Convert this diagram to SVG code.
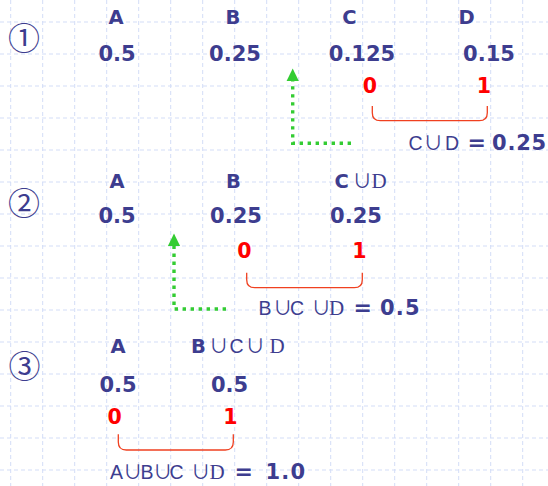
<svg xmlns="http://www.w3.org/2000/svg" width="548" height="486" viewBox="0 0 548 486">
  <defs>
    <style>
      .grid line { stroke: #d3ddf7; stroke-width: 1; stroke-dasharray: 4 3; }
      .lbl { font-family: "DejaVu Sans", sans-serif; font-weight: bold; font-size: 19.5px; fill: #3d3d8f; }
      .eq { font-family: "DejaVu Sans", sans-serif; font-weight: bold; font-size: 22px; fill: #3d3d8f; }
      .sum { font-family: "DejaVu Sans", sans-serif; font-weight: bold; font-size: 21px; fill: #3d3d8f; }
      .val { font-family: "DejaVu Sans", sans-serif; font-weight: bold; font-size: 21px; fill: #3d3d8f; text-anchor: middle; }
      .bit { font-family: "DejaVu Sans", sans-serif; font-weight: bold; font-size: 20.5px; fill: #ff0000; text-anchor: middle; }
      .thin { font-family: "Liberation Sans", sans-serif; font-weight: normal; font-size: 19.5px; fill: #3d3d8f; }
      .cup { font-family: "Noto Sans CJK JP", "DejaVu Sans", sans-serif; font-weight: normal; font-size: 19.5px; letter-spacing: -7px; fill: #3d3d8f; }
      .serifd { font-family: "Liberation Serif", serif; font-weight: normal; font-size: 21px; fill: #3d3d8f; }
      .step { font-family: "Noto Sans CJK JP", "DejaVu Sans", sans-serif; font-size: 32px; fill: #3d3d8f; text-anchor: middle; }
      .brace { fill: none; stroke: #f04020; stroke-width: 1.3; }
      .dots { fill: none; stroke: #33cc33; stroke-width: 3.4; stroke-dasharray: 3.4 4.6; }
      .head { fill: #33cc33; }
    </style>
  </defs>

  <rect width="548" height="486" fill="#ffffff"/>

  <!-- background grid, 32px pitch -->
  <g class="grid">
    <line x1="10.7" y1="0" x2="10.7" y2="486"/>
    <line x1="42.7" y1="0" x2="42.7" y2="486"/>
    <line x1="74.7" y1="0" x2="74.7" y2="486"/>
    <line x1="106.7" y1="0" x2="106.7" y2="486"/>
    <line x1="138.7" y1="0" x2="138.7" y2="486"/>
    <line x1="170.7" y1="0" x2="170.7" y2="486"/>
    <line x1="202.7" y1="0" x2="202.7" y2="486"/>
    <line x1="234.7" y1="0" x2="234.7" y2="486"/>
    <line x1="266.7" y1="0" x2="266.7" y2="486"/>
    <line x1="298.7" y1="0" x2="298.7" y2="486"/>
    <line x1="330.7" y1="0" x2="330.7" y2="486"/>
    <line x1="362.7" y1="0" x2="362.7" y2="486"/>
    <line x1="394.7" y1="0" x2="394.7" y2="486"/>
    <line x1="426.7" y1="0" x2="426.7" y2="486"/>
    <line x1="458.7" y1="0" x2="458.7" y2="486"/>
    <line x1="490.7" y1="0" x2="490.7" y2="486"/>
    <line x1="522.7" y1="0" x2="522.7" y2="486"/>
    <line x1="0" y1="22" x2="548" y2="22"/>
    <line x1="0" y1="54" x2="548" y2="54"/>
    <line x1="0" y1="86" x2="548" y2="86"/>
    <line x1="0" y1="118" x2="548" y2="118"/>
    <line x1="0" y1="150" x2="548" y2="150"/>
    <line x1="0" y1="182" x2="548" y2="182"/>
    <line x1="0" y1="214" x2="548" y2="214"/>
    <line x1="0" y1="246" x2="548" y2="246"/>
    <line x1="0" y1="278" x2="548" y2="278"/>
    <line x1="0" y1="310" x2="548" y2="310"/>
    <line x1="0" y1="342" x2="548" y2="342"/>
    <line x1="0" y1="374" x2="548" y2="374"/>
    <line x1="0" y1="406" x2="548" y2="406"/>
    <line x1="0" y1="438" x2="548" y2="438"/>
    <line x1="0" y1="470" x2="548" y2="470"/>
  </g>

  <!-- step 1 -->
  <g id="step1">
    <text class="step" x="24" y="50">①</text>
    <g id="s1-A"><text class="lbl" x="116" y="24" text-anchor="middle">A</text><text class="val" x="117" y="60.5">0.5</text></g>
    <g id="s1-B"><text class="lbl" x="233" y="24" text-anchor="middle">B</text><text class="val" x="235" y="60.5">0.25</text></g>
    <g id="s1-C"><text class="lbl" x="349.5" y="24" text-anchor="middle">C</text><text class="val" x="362" y="60.5">0.125</text></g>
    <g id="s1-D"><text class="lbl" x="466.5" y="24" text-anchor="middle">D</text><text class="val" x="489" y="60.5">0.15</text></g>
    <g id="s1-merge">
      <text class="bit" x="370" y="93">0</text>
      <text class="bit" x="484" y="93">1</text>
      <path class="brace" d="M372.3,106 V112.7 Q372.3,120.7 380.3,120.7 H479.3 Q487.3,120.7 487.3,112.7 V106"/>
      <text y="150"><tspan class="thin" x="408.5">C</tspan><tspan class="cup" x="423.5">∪</tspan><tspan class="thin" x="445">D</tspan><tspan class="eq" x="467.5">=</tspan><tspan class="sum" x="492" letter-spacing="0.8px">0.25</tspan></text>
    </g>
  </g>

  <!-- step 2 -->
  <g id="step2">
    <text class="step" x="24" y="214.5">②</text>
    <g id="s2-A"><text class="lbl" x="117" y="188" text-anchor="middle">A</text><text class="val" x="117" y="223">0.5</text></g>
    <g id="s2-B"><text class="lbl" x="233.5" y="188" text-anchor="middle">B</text><text class="val" x="236" y="223">0.25</text></g>
    <g id="s2-CD">
      <text y="188"><tspan class="lbl" x="334.5">C</tspan><tspan class="cup" x="352.5">∪</tspan><tspan class="serifd" x="371.5">D</tspan></text>
      <text class="val" x="356" y="223">0.25</text>
    </g>
    <g id="s2-merge">
      <text class="bit" x="244.5" y="258">0</text>
      <text class="bit" x="359.5" y="258">1</text>
      <path class="brace" d="M246.7,272.7 V279.7 Q246.7,287.7 254.7,287.7 H354.3 Q362.3,287.7 362.3,279.7 V272.7"/>
      <text y="315"><tspan class="thin" x="258.5">B</tspan><tspan class="cup" x="273">∪</tspan><tspan class="thin" x="290">C</tspan><tspan class="cup" x="311.5">∪</tspan><tspan class="serifd" x="329">D</tspan><tspan class="eq" x="353.5">=</tspan><tspan class="sum" x="380" font-size="23px" letter-spacing="1.2px">0.5</tspan></text>
    </g>
  </g>

  <!-- step 3 -->
  <g id="step3">
    <text class="step" x="24.5" y="377.5">③</text>
    <g id="s3-A"><text class="lbl" x="118" y="353" text-anchor="middle">A</text><text class="val" x="118" y="391.5">0.5</text></g>
    <g id="s3-BCD">
      <text y="353"><tspan class="lbl" x="191">B</tspan><tspan class="cup" x="209">∪</tspan><tspan class="thin" x="229.5">C</tspan><tspan class="cup" x="245.5">∪</tspan><tspan class="serifd" x="269.5">D</tspan></text>
      <text class="val" x="229.5" y="391.5">0.5</text>
    </g>
    <g id="s3-merge">
      <text class="bit" x="114.7" y="424">0</text>
      <text class="bit" x="230.5" y="424">1</text>
      <path class="brace" d="M118.3,434.3 V442 Q118.3,450 126.3,450 H225.3 Q233.3,450 233.3,442 V434.3"/>
      <text y="479"><tspan class="thin" x="110">A</tspan><tspan class="cup" x="123">∪</tspan><tspan class="thin" x="140.5">B</tspan><tspan class="cup" x="153">∪</tspan><tspan class="thin" x="169.5">C</tspan><tspan class="cup" x="191">∪</tspan><tspan class="serifd" x="209.5">D</tspan><tspan class="eq" x="234.5">=</tspan><tspan class="sum" x="265.5" font-size="23px" letter-spacing="1.2px">1.0</tspan></text>
    </g>
  </g>

  <!-- result carried up to the next step -->
  <g id="connectors">
    <path class="dots" d="M351,143.3 H292.7 V81"/>
    <polygon class="head" points="292.7,68.5 298.8,81 286.6,81"/>
    <path class="dots" d="M226,309 H174 V246"/>
    <polygon class="head" points="174,233.5 180.1,246 167.9,246"/>
  </g>
</svg>
